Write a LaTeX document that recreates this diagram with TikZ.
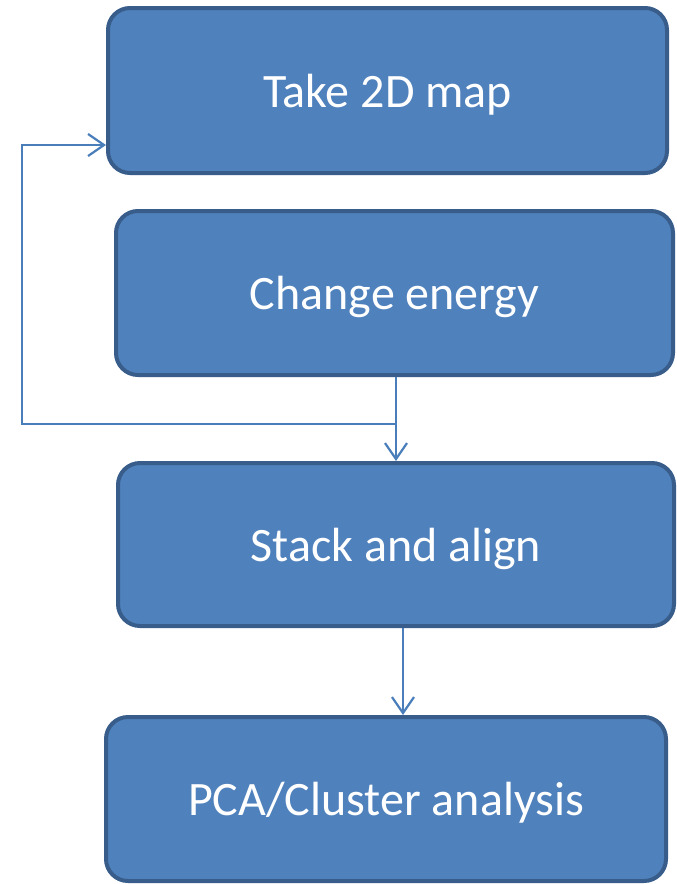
\documentclass[tikz,border=0pt]{standalone}
\usepackage{fontspec}
\setmainfont{Carlito}
\usetikzlibrary{arrows.meta}
\definecolor{boxfill}{HTML}{4F81BD}
\definecolor{boxline}{HTML}{385D8A}
\definecolor{arrcol}{HTML}{4A7EBB}
\newcommand{\boxtext}[1]{\raisebox{-4pt}[\height][\depth]{#1}}
\begin{document}
\begin{tikzpicture}[x=1pt,y=-1pt,
  stepbox/.style={draw=boxline, fill=boxfill, line width=4pt, rounded corners=22pt,
    text=white, font=\fontsize{48}{52}\selectfont, inner sep=0pt},
  arr/.style={draw=arrcol, line width=2.2pt, -{Straight Barb[length=16pt,width=22pt,line width=2.2pt]}}]
\useasboundingbox[fill=white] (0,0) rectangle (677,884);
\node[stepbox, minimum width=559pt, minimum height=165pt] (B1) at (387.5,90.5) {\boxtext{Take 2D map}};
\node[stepbox, minimum width=557pt, minimum height=164pt] (B2) at (394.5,293) {\boxtext{Change energy}};
\node[stepbox, minimum width=556pt, minimum height=163pt] (B3) at (396,544.5) {\boxtext{Stack and align}};
\node[stepbox, minimum width=560pt, minimum height=164pt] (B4) at (386,799) {\boxtext{PCA/Cluster analysis}};
\coordinate (c1) at (396,0);
\coordinate (c2) at (403,0);
\coordinate (j) at (396,424);
\coordinate (k) at (22,145);
\draw[arr] (B2.south -| c1) -- (B3.north -| c1);
\draw[arr] (j) -| (k) -- (k -| B1.west);
\draw[arr] (B3.south -| c2) -- (B4.north -| c2);
\end{tikzpicture}
\end{document}
